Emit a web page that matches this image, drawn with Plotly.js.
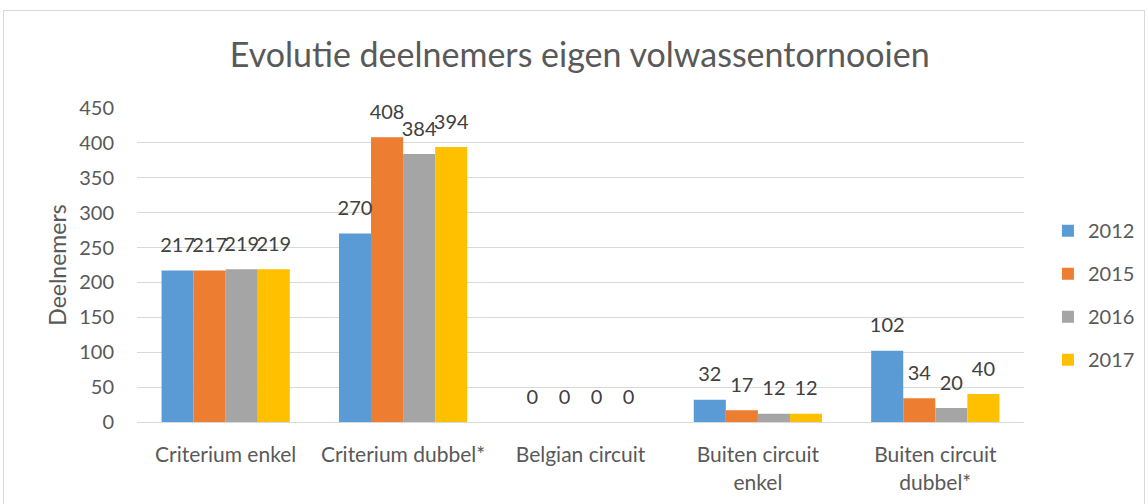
<!DOCTYPE html>
<html>
<head>
<meta charset="utf-8">
<script src="https://cdn.plot.ly/plotly-3.0.1.min.js"></script>
<style>
html,body{margin:0;padding:0;background:#fff;}
#wrap{position:relative;width:1148px;height:504px;}
#chart{width:1148px;height:504px;}
#frame{position:absolute;left:3px;top:10px;width:1140px;height:500px;border:1px solid #d9d9d9;pointer-events:none;}
</style>
</head>
<body>
<div id="wrap"><div id="chart"></div><div id="frame"></div></div>
<script>
const categories = ["Criterium enkel", "Criterium dubbel*", "Belgian circuit", "Buiten circuit<br>enkel", "Buiten circuit<br>dubbel*"];
const years = ["2012", "2015", "2016", "2017"];
const v2012 = [217, 270, 0, 32, 102];
const v2015 = [217, 408, 0, 17, 34];
const v2016 = [219, 384, 0, 12, 20];
const v2017 = [219, 394, 0, 12, 40];
const colors = ["#5B9BD5", "#ED7D31", "#A5A5A5", "#FFC000"];
const series = [v2012, v2015, v2016, v2017];
const FONT = "Lato, 'Open Sans', sans-serif";

const bars = series.map((vals, i) => ({
  type: "bar",
  name: years[i],
  x: categories,
  y: vals,
  marker: {color: colors[i]},
  offsetgroup: years[i],
  alignmentgroup: "a",
  legendgroup: "g" + i
}));
const labels = series.map((vals, i) => ({
  type: "scatter",
  mode: "markers+text",
  x: categories,
  y: vals,
  text: vals.map(String),
  textposition: "top center",
  textfont: {family: FONT, size: 20, color: "#404040"},
  marker: {size: 20, opacity: 0, color: colors[i]},
  offsetgroup: years[i],
  alignmentgroup: "a",
  cliponaxis: false,
  showlegend: false,
  hoverinfo: "skip"
}));

const layout = {
  width: 1148, height: 504,
  margin: {l: 137, r: 124, t: 108, b: 82, autoexpand: false},
  paper_bgcolor: "#fff", plot_bgcolor: "#fff",
  barmode: "group", bargap: 0.277, bargroupgap: 0,
  scattermode: "group", scattergap: 0.277,
  font: {family: FONT, color: "#595959"},
  title: {text: "Evolutie deelnemers eigen volwassentornooien", font: {family: FONT, size: 34, color: "#595959"}, x: 0.505, xanchor: "center", y: 0.89, yanchor: "middle"},
  xaxis: {tickfont: {family: FONT, size: 21, color: "#595959"}, showline: true, linecolor: "#d9d9d9", linewidth: 1, ticks: "", ticklabelstandoff: 14, fixedrange: true, automargin: false},
  yaxis: {range: [0, 450], dtick: 50, tickfont: {family: FONT, size: 20, color: "#595959"}, gridcolor: "#d9d9d9", gridwidth: 1, zeroline: false, showline: false, ticks: "", ticklabelstandoff: 22, automargin: false,
    title: {text: "Deelnemers", font: {family: FONT, size: 23, color: "#595959"}, standoff: 6}},
  legend: {x: 1.027, xanchor: "left", y: 0.404, yanchor: "middle", font: {family: FONT, size: 20, color: "#595959"}, tracegroupgap: 14, itemwidth: 30, bgcolor: "rgba(0,0,0,0)"},
  showlegend: true
};
Plotly.newPlot("chart", bars.concat(labels), layout, {displayModeBar: false, staticPlot: true});
</script>
</body>
</html>
